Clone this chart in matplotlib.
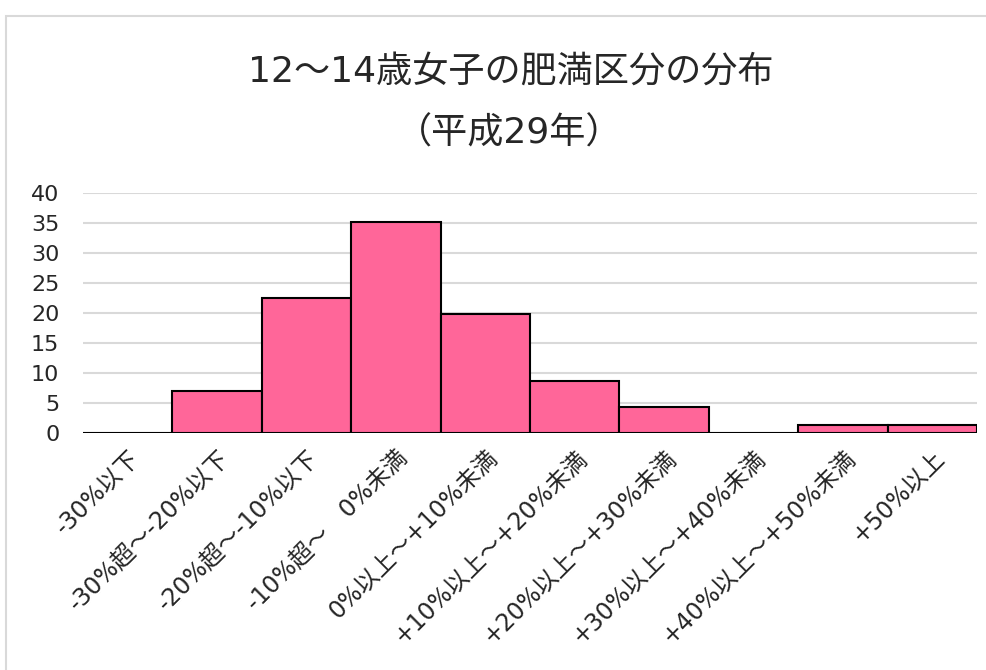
import matplotlib
matplotlib.use("Agg")
from matplotlib import pyplot as plt
import matplotlib.patches as patches

plt.rcParams['font.family'] = ['DejaVu Sans', 'Noto Sans CJK JP']

categories = [
    "-30%以下", "-30%超～-20%以下", "-20%超～-10%以下", "-10%超～　0%未満",
    "0%以上～+10%未満", "+10%以上～+20%未満", "+20%以上～+30%未満",
    "+30%以上～+40%未満", "+40%以上～+50%未満", "+50%以上",
]
values = [0, 7.0, 22.5, 35.2, 19.8, 8.7, 4.3, 0, 1.3, 1.3]
yticks = [0, 5, 10, 15, 20, 25, 30, 35, 40]

fig = plt.figure(figsize=(9.87, 6.70), dpi=100)

# light frame around the chart area
frame = patches.Rectangle(
    (6 / 987, -0.05), 1.0, 1 - 16 / 670 + 0.05,
    transform=fig.transFigure, facecolor="none",
    edgecolor="#d9d9d9", linewidth=1.5, zorder=-1,
)
fig.patches.append(frame)

ax = fig.add_axes([83 / 987, 1 - 433 / 670, (977 - 83) / 987, (433 - 193) / 670])
ax.patch.set_alpha(0)
x = list(range(len(categories)))
ax.bar(x, values, width=1.0, color="#ff6699", edgecolor="black", linewidth=1.5, zorder=3)

ax.set_xlim(-0.5, len(categories) - 0.5)
ax.set_ylim(0, 40)
ax.set_yticks(yticks)
ax.yaxis.grid(True, color="#d9d9d9", linewidth=1.5, zorder=0)
ax.set_axisbelow(True)
for s in ax.spines.values():
    s.set_visible(False)
ax.tick_params(axis="y", length=0, pad=17, labelsize=16, labelcolor="#262626")
ax.tick_params(axis="x", length=0, pad=9, labelsize=17, labelcolor="#262626")
ax.set_xticks(x)
ax.set_xticklabels(categories, rotation=45, ha="right", rotation_mode="anchor")

fig.text(511 / 987, 1 - 72 / 670, "12～14歳女子の肥満区分の分布", ha="center", va="center",
         fontsize=26, color="#262626")
fig.text(509 / 987, 1 - 133 / 670, "（平成29年）", ha="center", va="center",
         fontsize=26, color="#262626")

fig.savefig("out.png", dpi=100, facecolor="white")
